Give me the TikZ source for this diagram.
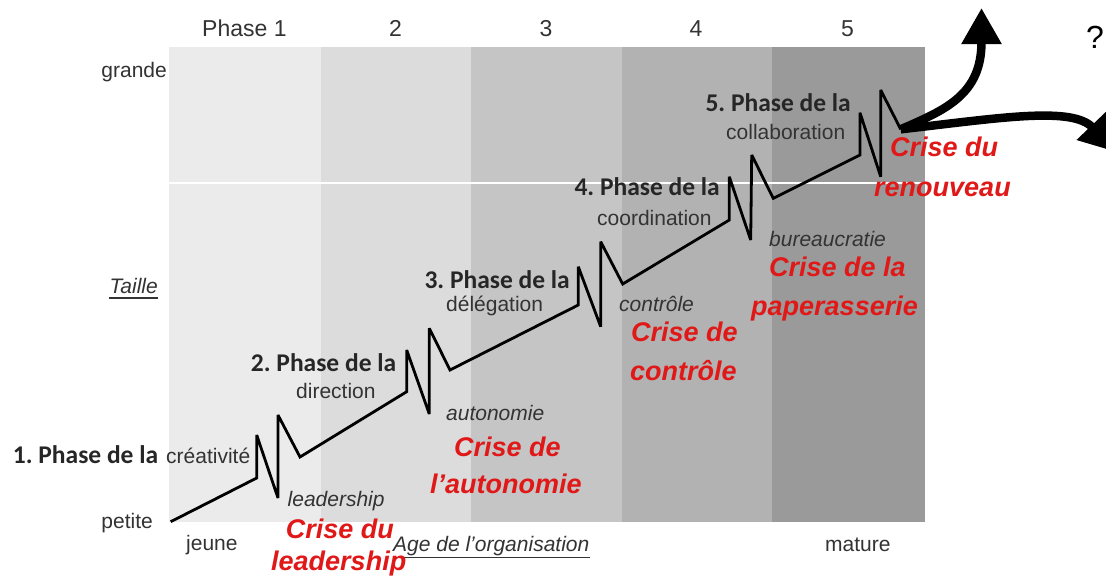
\documentclass[tikz,border=0pt]{standalone}
\usepackage{fontspec}
\setmainfont{Liberation Sans}
\newfontfamily\calibri{Carlito}
\usetikzlibrary{arrows.meta}
\frenchspacing
\definecolor{bandA}{HTML}{EBEBEB}
\definecolor{bandB}{HTML}{DCDCDC}
\definecolor{bandC}{HTML}{C5C5C5}
\definecolor{bandD}{HTML}{B2B2B2}
\definecolor{bandE}{HTML}{9A9A9A}
\definecolor{labgray}{HTML}{333333}
\definecolor{boldgray}{HTML}{262626}
\definecolor{crisisred}{HTML}{E01818}
\tikzset{
  lab/.style={font=\fontsize{21}{24}\selectfont, text=labgray, inner sep=0pt},
  itlab/.style={font=\fontsize{21}{24}\selectfont\itshape, text=labgray, inner sep=0pt},
  phaselab/.style={font=\calibri\bfseries\fontsize{25.5}{28}\selectfont, text=boldgray, inner sep=0pt},
  toplab/.style={font=\fontsize{23}{26}\selectfont, text=labgray, inner sep=0pt},
  crisis/.style={font=\fontsize{27}{30}\selectfont\bfseries\itshape, text=crisisred, inner sep=0pt},
  growth/.style={draw=black, line width=2.8pt, line join=miter, miter limit=3},
  bigarrow/.style={draw=black, line width=8.5pt, -{Triangle[length=36pt,width=38pt]}},
  ul/.style={draw=labgray, line width=1.3pt}
}
\begin{document}
\begin{tikzpicture}[x=1pt,y=-1pt]
\useasboundingbox (0,0) rectangle (1106,584);
\fill[white] (0,0) rectangle (1106,584);
% bands
\fill[bandA] (169,47) rectangle (321,522);
\fill[bandB] (321,47) rectangle (471,522);
\fill[bandC] (471,47) rectangle (622,522);
\fill[bandD] (622,47) rectangle (772,522);
\fill[bandE] (772,47) rectangle (925,522);
\draw[white, line width=1.5pt] (169,183) -- (925,183);
% header
\node[toplab, anchor=base west] (ph1) at (202,36) {Phase 1};
\node[toplab, anchor=base] (ph2) at (395.6,36) {2};
\node[toplab, anchor=base] (ph3) at (546,36) {3};
\node[toplab, anchor=base] (ph4) at (696,36) {4};
\node[toplab, anchor=base] (ph5) at (847.6,36) {5};
\node[font=\fontsize{32}{34}\selectfont, text=black, inner sep=0pt, anchor=base] (q) at (1095,48) {?};
% axes labels
\node[lab, anchor=base east] (grande) at (167,77) {grande};
\node[itlab, anchor=base east] (taille) at (158,293) {Taille};
\draw[ul] ([yshift=-5pt]taille.base west) -- ([yshift=-5pt]taille.base east);
\node[lab, anchor=base east] (petite) at (153,528) {petite};
\node[lab, anchor=base west] (jeune) at (186,550) {jeune};
\node[itlab, anchor=base west] (age) at (393,551.7) {Age de l’organisation};
\draw[ul] ([yshift=-6pt]age.base west) -- ([yshift=-6pt]age.base east);
\node[lab, anchor=base west] (mature) at (825,551.7) {mature};
% growth line
\coordinate (start) at (170.7,521.7);
\coordinate (crisisend) at (900.7,129.3);
\draw[growth] (start) -- (256.7,478) -- (256.7,435) -- (278,498) -- (278,415) -- (300,457)
  -- (406.7,391.7) -- (406.7,350) -- (429.3,414) -- (429.3,328.3) -- (450,370)
  -- (578.3,305) -- (578.3,266.7) -- (600.7,326.7) -- (600.7,241.7) -- (622.7,284)
  -- (729.3,220) -- (729.3,176.7) -- (750.7,240) -- (751.7,155) -- (773.3,198.3)
  -- (860,155) -- (860,112.7) -- (880.7,176.7) -- (880.7,90) -- (crisisend);
% arrows
\coordinate (uptip) at (981.5,8);
\coordinate (righttip) at (1116,152);
\draw[bigarrow] (crisisend) .. controls (945,110) and (981.5,95) .. (uptip);
\draw[bigarrow] (crisisend) .. controls (1000,118) and (1072,106) .. (righttip);
% phase labels
\node[phaselab, anchor=base west] (p1) at (12.7,463) {1. Phase de la};
\node[lab, anchor=base west] (p1b) at (166,463) {créativité};
\node[phaselab, anchor=base east] (p2) at (396.4,371.7) {2. Phase de la};
\node[lab, anchor=base west] (p2b) at (296,398) {direction};
\node[phaselab, anchor=base east] (p3) at (570,288) {3. Phase de la};
\node[lab, anchor=base west] (p3b) at (446,311) {délégation};
\node[phaselab, anchor=base east] (p4) at (720,195) {4. Phase de la};
\node[lab, anchor=base west] (p4b) at (597,225) {coordination};
\node[phaselab, anchor=base east] (p5) at (851,111.7) {5. Phase de la};
\node[lab, anchor=base west] (p5b) at (726,139.3) {collaboration};
% crisis small labels
\node[itlab, anchor=base west] (k1) at (287.5,506.7) {leadership};
\node[itlab, anchor=base west] (k2) at (446,420) {autonomie};
\node[itlab, anchor=base west] (k3) at (619,311.7) {contrôle};
\node[itlab, anchor=base west] (k4) at (769,246.7) {bureaucratie};
% crisis red labels
\node[crisis, anchor=base west] (r1a) at (285.7,538) {Crise du};
\node[crisis, anchor=base west] (r1b) at (271,570) {leadership};
\node[crisis, anchor=base west] (r2a) at (454,456.7) {Crise de};
\node[crisis, anchor=base west] (r2b) at (430,493) {l’autonomie};
\node[crisis, anchor=base west] (r3a) at (631,341.7) {Crise de};
\node[crisis, anchor=base west] (r3b) at (630,380) {contrôle};
\node[crisis, anchor=base west] (r4a) at (769,276.7) {Crise de la};
\node[crisis, anchor=base west] (r4b) at (751,315) {paperasserie};
\node[crisis, anchor=base west] (r5a) at (890,156.7) {Crise du};
\node[crisis, anchor=base west] (r5b) at (874,196.7) {renouveau};
\end{tikzpicture}
\end{document}
